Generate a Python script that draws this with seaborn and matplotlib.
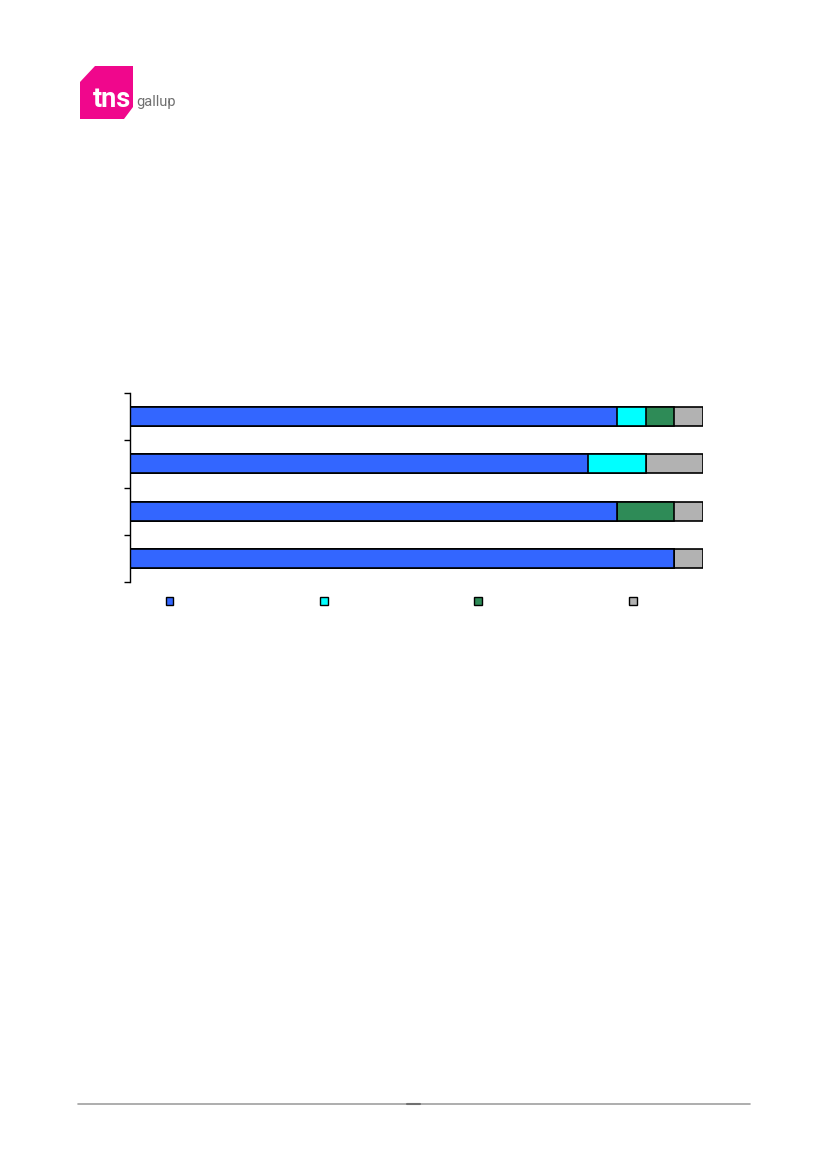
import numpy as np
import pandas as pd
import seaborn as sns
from matplotlib import pyplot as plt
from matplotlib.patches import Polygon, Patch
from matplotlib.lines import Line2D

# data (percent shares, each row sums to 100)
rows = ['Rad 1', 'Rad 2', 'Rad 3', 'Rad 4']
blue = [85, 80, 85, 95]
cyan = [5, 10, 0, 0]
green = [5, 0, 10, 0]
grey = [5, 10, 5, 5]
colors = ['#3366FF', '#00FFFF', '#2E8B57', '#B2B2B2']

sns.set_style('white')
plt.rcParams['font.family'] = ['DejaVu Sans']

W, H = 826, 1169
fig = plt.figure(figsize=(W / 100, H / 100), dpi=100)


def fx(px):
    return px / W


def fy(py):
    return 1 - py / H


# logo
pts = [(80, 82), (95, 66), (133, 66), (133, 107), (124, 119), (80, 119)]
fig.patches.append(Polygon([(fx(x), fy(y)) for x, y in pts], closed=True,
                           facecolor='#F0078C', edgecolor='none', transform=fig.transFigure))
fig.text(fx(93), fy(107), 'tns', color='white', fontsize=19.5, fontweight='bold',
         va='baseline', family=['Roboto', 'DejaVu Sans'])
fig.text(fx(136), fy(106), 'gallup', color='#707070', fontsize=10.5, va='baseline',
         family=['Roboto', 'DejaVu Sans'])

# footer line
fig.add_artist(Line2D([fx(78), fx(750)], [fy(1104)] * 2, color='#A0A0A0', lw=1.2,
                      transform=fig.transFigure))
fig.add_artist(Line2D([fx(407), fx(420)], [fy(1104)] * 2, color='#707070', lw=1.5,
                      transform=fig.transFigure))

ax = fig.add_axes([fx(130), fy(582), 573 / W, 189 / H])

df = pd.DataFrame({'row': rows, 'blue': blue, 'cyan': cyan, 'green': green, 'grey': grey})
parts = ['blue', 'cyan', 'green', 'grey']
cum = df[parts].cumsum(axis=1)

# draw cumulative totals from the back to the front
for part, col in zip(parts[::-1], colors[::-1]):
    sns.barplot(x=cum[part], y=df['row'], orient='h', color=col, edgecolor='black',
                linewidth=1.2, width=0.4, saturation=1, ax=ax)

ax.set_xlim(0, 100)
ax.set_ylim(3.5, -0.5)
ax.set_yticks(np.arange(-0.5, 4, 1))
ax.set_yticklabels([])
ax.set_xticks([])
ax.set_xlabel('')
ax.set_ylabel('')
ax.tick_params(axis='y', direction='out', length=4, width=1, color='black', left=True)
for s in ['top', 'right', 'bottom']:
    ax.spines[s].set_visible(False)
ax.spines['left'].set_color('black')
ax.spines['left'].set_linewidth(1)

handles = [Patch(facecolor=c, edgecolor='black', linewidth=1) for c in colors]
fig.legend(handles, ['', '', '', ''], ncol=4, loc='center left',
           bbox_to_anchor=(fx(160), fy(602)), frameon=False, fontsize=8,
           handlelength=0.7, handleheight=0.7, handletextpad=0, columnspacing=13.2, borderpad=0)

fig.savefig('out.png', dpi=100)
